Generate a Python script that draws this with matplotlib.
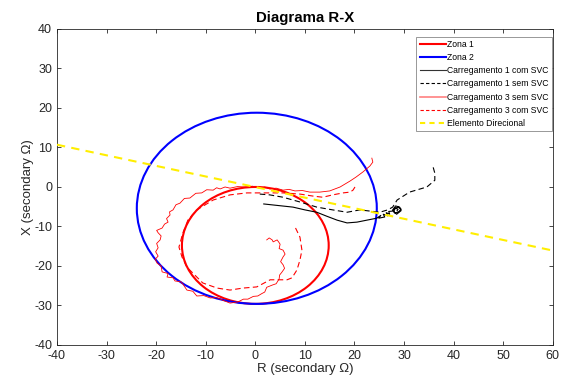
import matplotlib
matplotlib.use("Agg")
import matplotlib.pyplot as plt
from matplotlib.patches import Circle
from matplotlib.lines import Line2D

plt.rcParams['font.family'] = ['Liberation Sans', 'DejaVu Sans']
plt.rcParams['axes.unicode_minus'] = False

# Zones (center R, center X, radius)
zona1 = (0.0, -14.8, 14.8)
zona2 = (0.3, -5.4, 24.2)

# Directional element
dir_R = [-40, 60]
dir_X = [10.7, -16.1]

# Carregamento 1 com SVC (solid black)
c1_com_R = [1.7, 3.9, 7.6, 10.0, 12.4, 14.4, 16.5, 18.5, 20.5, 22.5, 24.5, 25.3, 24.9, 26.1, 25.8, 26.7, 26.4,
            27.1, 26.9, 27.7, 28.3, 28.9, 29.4, 28.9, 28.1, 27.7, 28.3, 29.1, 29.4, 28.5, 27.9, 28.2, 28.8, 28.6]
c1_com_X = [-4.3, -4.6, -5.1, -5.8, -6.4, -7.4, -8.4, -9.1, -8.9, -8.4, -7.9, -7.2, -7.9, -7.6, -6.9, -7.3, -6.5,
            -6.9, -6.2, -6.1, -5.3, -5.1, -5.6, -6.3, -6.6, -5.8, -4.8, -5.1, -6.0, -6.9, -6.2, -5.4, -5.6, -6.0]

# Carregamento 1 sem SVC (dashed black)
c1_sem_R = [0.9, 2.9, 5.6, 9.0, 12.4, 15.6, 18.5, 21.1, 23.1, 25.1, 26.7, 27.7, 28.6, 31.1, 34.6, 36.2, 36.2, 35.8]
c1_sem_X = [-1.8, -2.0, -2.6, -3.8, -5.1, -5.8, -6.4, -5.8, -6.1, -6.4, -5.8, -5.1, -3.3, -1.3, 0.0, 1.7, 3.5, 5.3]

# Carregamento 3 sem SVC (thin solid red)
c3_sem_R = [23.5, 23.7, 23.1, 21.7, 20.3, 19.1, 17.1, 15.0, 13.0, 11.0, 9.5, 8.0, 6.8, 5.6, 4.2, 2.9, 1.9,
            0.9, -0.6, -2.1, -3.6, -5.1, -6.1, -7.1, -7.8, -8.5, -9.8, -10.8, -12.0, -13.2, -14.3, -15.2,
            -16.0, -16.6, -17.3, -17.2, -17.9, -17.6, -18.3, -18.8, -19.9, -19.6, -19.0, -19.2, -19.9, -19.6,
            -20.1, -19.6, -20.2, -19.8, -19.0, -18.8, -17.6, -17.8, -16.6, -16.2, -15.0, -14.6, -13.8, -12.6,
            -11.8, -10.4, -9.1, -7.8, -6.7, -5.1, -3.5, -2.4, -1.5, -0.4, 0.5, 1.3, 1.9, 2.3, 3.5, 4.2, 4.8,
            4.9, 5.4, 5.9, 5.6, 5.1, 5.6, 6.0, 5.6, 4.8, 5.0, 4.8, 4.4, 3.6, 3.4, 2.8, 2.3]
c3_sem_X = [7.3, 6.3, 5.3, 3.8, 2.5, 1.5, 0.0, -1.0, -1.3, -1.3, -0.9, -1.0, -0.6, -0.8, -0.3, -0.5, 0.0,
            -0.3, 0.2, 0.0, 0.1, -0.3, 0.0, -0.5, -0.2, -0.8, -0.7, -1.5, -1.6, -2.8, -2.9, -4.1,
            -4.5, -5.8, -6.3, -7.1, -8.0, -8.9, -9.4, -10.4, -11.0, -11.6, -12.4, -13.4, -14.3, -15.4,
            -16.4, -17.5, -18.3, -19.3, -20.0, -21.5, -21.9, -22.8, -23.0, -23.8, -24.0, -24.6, -26.1, -26.4,
            -27.6, -27.5, -28.1, -28.0, -28.6, -29.4, -29.1, -28.4, -28.4, -27.7, -27.6, -27.0, -26.6, -25.4, -24.8, -24.5, -23.3,
            -22.3, -21.5, -20.6, -19.7, -18.9, -17.7, -17.0, -16.0, -15.6, -14.5, -14.1, -13.4, -13.9, -13.4, -12.9, -13.4]

# Carregamento 3 com SVC (dashed red)
c3_com_R = [20.1, 19.7, 19.1, 17.7, 15.6, 13.6, 11.6, 9.0, 5.6, 2.3, -1.7, -5.1, -8.5, -11.8, -13.6,
            -14.6, -15.4, -14.8, -13.8, -12.6, -10.6, -7.7, -5.1, -2.5, 0.3, 3.0, 6.4, 7.4, 8.4, 9.0, 9.4, 9.0, 8.0]
c3_com_X = [0.0, -0.8, -1.3, -1.5, -2.0, -2.6, -2.3, -1.8, -1.5, -1.5, -1.5, -2.0, -3.3, -5.8, -8.4,
            -11.6, -15.2, -17.7, -20.3, -21.8, -24.3, -25.6, -26.1, -25.6, -25.3, -23.5, -23.5, -23.0, -21.0,
            -18.5, -16.0, -12.7, -10.1]

legend_labels = ['Zona 1', 'Zona 2', 'Carregamento 1 com SVC', 'Carregamento 1 sem SVC',
                 'Carregamento 3 sem SVC', 'Carregamento 3 com SVC', 'Elemento Direcional']

fig = plt.figure(figsize=(5.67, 3.85), dpi=100)
ax = fig.add_axes([0.1005, 0.104, 0.8745, 0.8207])

ax.add_patch(Circle((zona1[0], zona1[1]), zona1[2], fill=False, ec='red', lw=1.5, zorder=3))
ax.add_patch(Circle((zona2[0], zona2[1]), zona2[2], fill=False, ec='blue', lw=1.5, zorder=3))
ax.plot(c1_com_R, c1_com_X, color='black', lw=0.8, zorder=4)
ax.plot(c1_sem_R, c1_sem_X, color='black', lw=0.8, ls=(0, (5, 3)), zorder=4)
ax.plot(c3_sem_R, c3_sem_X, color='red', lw=0.6, zorder=4)
ax.plot(c3_com_R, c3_com_X, color='red', lw=0.8, ls=(0, (5, 3)), zorder=4)
ax.plot(dir_R, dir_X, color='#ffee00', lw=1.5, ls=(0, (4, 3)), zorder=5)

handles = [
    Line2D([], [], color='red', lw=1.5),
    Line2D([], [], color='blue', lw=1.5),
    Line2D([], [], color='#333333', lw=0.8),
    Line2D([], [], color='black', lw=0.8, ls=(0, (3, 2))),
    Line2D([], [], color='#ff8080', lw=1.2),
    Line2D([], [], color='red', lw=0.8, ls=(0, (3, 2))),
    Line2D([], [], color='#ffee00', lw=1.5, ls=(0, (2.5, 2))),
]
leg = ax.legend(handles, legend_labels, loc='upper right', fontsize=6.2, frameon=True,
                fancybox=False, edgecolor='#888888', framealpha=1, handlelength=3.0,
                handletextpad=0.15, labelspacing=0.47, borderpad=0.4, borderaxespad=0,
                bbox_to_anchor=(0.998, 0.975))
leg.get_frame().set_linewidth(0.6)

ax.set_xlim(-40, 60)
ax.set_ylim(-40, 40)
ax.set_xticks(range(-40, 61, 10))
ax.set_yticks(range(-40, 41, 10))
ax.tick_params(direction='in', top=True, right=True, labelsize=9, length=3,
               colors='#262626', width=0.6)
for s in ax.spines.values():
    s.set_color('#262626')
    s.set_linewidth(0.6)
ax.set_xlabel('R (secondary Ω)', fontsize=9.5, color='#262626', labelpad=1)
ax.set_ylabel('X (secondary Ω)', fontsize=9.5, color='#262626', labelpad=0)
ax.set_title('Diagrama R-X', fontsize=10.8, fontweight='bold', pad=5)

fig.savefig('out.png', dpi=100)
